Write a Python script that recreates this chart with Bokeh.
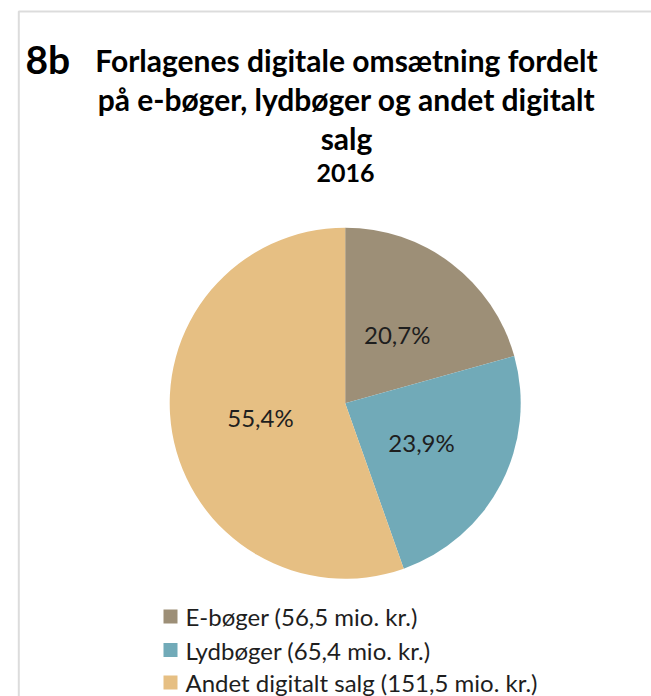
import math
from bokeh.plotting import figure
from bokeh.models import Range1d, BoxAnnotation, ColumnDataSource
from bokeh.core.properties import value
from bokeh.embed import file_html
from bokeh.resources import INLINE

# ---- data ----
categories = ["E-bøger", "Lydbøger", "Andet digitalt salg"]
values = [56.5, 65.4, 151.5]          # mio. kr.
colors = ["#9d8f77", "#71aab8", "#e6bf83"]
title_lines = ["Forlagenes digitale omsætning fordelt",
               "på e-bøger, lydbøger og andet digitalt",
               "salg"]
subtitle = "2016"
tag = "8b"

# ---- layout ----
W, H = 651, 696
FONT = "Lato"

def fx(img_x):
    return img_x

def fy(img_y):
    return H - img_y

p = figure(width=W, height=H, output_backend="svg", toolbar_location=None,
           x_range=Range1d(0, W), y_range=Range1d(0, H),
           min_border=0, outline_line_color=None)
p.axis.visible = False
p.grid.visible = False
p.background_fill_color = "white"

# frame border (partially cropped box)
p.add_layout(BoxAnnotation(left=fx(18.3), top=fy(11), right=W + 30, bottom=-30,
                           fill_alpha=0, line_color="#8a8a8a", line_width=2))

# ---- pie ----
cx, cy, r = fx(344.7), fy(402.7), 175.5
total = sum(values)
starts, ends, mids = [], [], []
acc = 0.0
for v in values:
    a0 = math.pi / 2 - 2 * math.pi * acc / total
    acc += v
    a1 = math.pi / 2 - 2 * math.pi * acc / total
    starts.append(a0)
    ends.append(a1)
    mids.append((a0 + a1) / 2)

src = ColumnDataSource(dict(start=starts, end=ends, color=colors))
p.wedge(x=cx, y=cy, radius=r, start_angle="start", end_angle="end",
        direction="clock", fill_color="color", line_color=None, source=src)

pct = [f"{v / total * 100:.1f}%".replace(".", ",") for v in values]
lab_r = 0.49 * r
p.text(x=[cx + lab_r * math.cos(m) for m in mids],
       y=[cy + lab_r * math.sin(m) for m in mids],
       text=pct, text_font=value(FONT), text_font_size="24px",
       text_color="#1e1e1e", text_align="center", text_baseline="middle")

# ---- titles ----
p.text(x=[fx(25)], y=[fy(58)], text=[tag], text_font=value(FONT),
       text_font_size="39px", text_font_style="bold", text_color="black",
       text_align="left", text_baseline="alphabetic")
base = [59, 98, 137]
p.text(x=[fx(346)] * 3, y=[fy(b) for b in base], text=title_lines,
       text_font=value(FONT), text_font_size="30px", text_font_style="bold",
       text_color="black", text_align="center", text_baseline="alphabetic")
p.text(x=[fx(345)], y=[fy(172)], text=[subtitle], text_font=value(FONT),
       text_font_size="25px", text_font_style="bold", text_color="black",
       text_align="center", text_baseline="alphabetic")

# ---- legend ----
leg_labels = [f"{c} ({v:.1f} mio. kr.)".replace(".", ",", 1) for c, v in zip(categories, values)]
rows = [616, 649.5, 682]
p.rect(x=[fx(170)] * 3, y=[fy(y) for y in rows], width=14, height=14,
       fill_color=colors, line_color=None)
p.text(x=[fx(185)] * 3, y=[fy(y) for y in rows], text=leg_labels,
       text_font=value(FONT), text_font_size="24px", text_color="#1e1e1e",
       text_align="left", text_baseline="middle")

open("out.html", "w").write(file_html(p, INLINE))
